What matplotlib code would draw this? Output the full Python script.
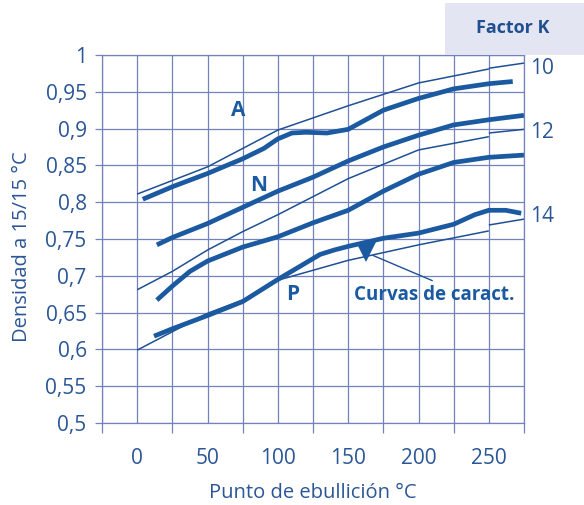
import matplotlib
matplotlib.use("Agg")
import matplotlib.pyplot as plt
from matplotlib.patches import Rectangle
from matplotlib.ticker import FixedLocator, NullFormatter, FixedFormatter

plt.rcParams['font.family'] = ['Open Sans', 'DejaVu Sans']

# ---- data ----
# thin "Factor K" lines
k10_x = [0, 50, 100, 150, 200, 250]
k10_y = [0.811, 0.848, 0.898, 0.931, 0.962, 0.981]
k10_tail_x = [250, 275]
k10_tail_y = [0.982, 0.989]

k12_x = [0, 25, 50, 75, 100, 150, 200, 250]
k12_y = [0.681, 0.706, 0.735, 0.760, 0.783, 0.832, 0.871, 0.889]
k12_tail_x = [250, 275]
k12_tail_y = [0.894, 0.899]

k14_x = [0, 25, 50, 75, 100, 150, 200, 250]
k14_y = [0.599, 0.624, 0.649, 0.667, 0.694, 0.721, 0.742, 0.761]
k14_tail_x = [250, 275]
k14_tail_y = [0.769, 0.777]

# thick curves
a_x = [4, 25, 50, 75, 90, 100, 110, 120, 135, 150, 175, 200, 225, 250, 267]
a_y = [0.804, 0.821, 0.839, 0.859, 0.873, 0.886, 0.894, 0.895, 0.894, 0.899,
       0.925, 0.941, 0.954, 0.961, 0.964]

n_x = [14, 25, 50, 75, 100, 125, 150, 175, 200, 225, 250, 275]
n_y = [0.742, 0.752, 0.771, 0.793, 0.815, 0.834, 0.856, 0.875, 0.891, 0.905,
       0.912, 0.918]

c_x = [14, 25, 37.5, 50, 75, 100, 125, 150, 175, 200, 225, 250, 275]
c_y = [0.667, 0.686, 0.706, 0.720, 0.739, 0.753, 0.772, 0.789, 0.815, 0.838,
       0.854, 0.861, 0.864]

p_x = [12, 25, 50, 75, 100, 115, 130, 140, 150, 175, 200, 225, 240, 250, 262, 273]
p_y = [0.618, 0.628, 0.646, 0.665, 0.695, 0.712, 0.729, 0.735, 0.740, 0.751,
       0.758, 0.770, 0.783, 0.789, 0.789, 0.785]

x_labels = ['0', '50', '100', '150', '200', '250']
x_label_pos = [0, 50, 100, 150, 200, 250]
x_tick_pos = [-25, 25, 75, 125, 175, 225, 275]
y_ticks = [0.5, 0.55, 0.6, 0.65, 0.7, 0.75, 0.8, 0.85, 0.9, 0.95, 1.0]
y_labels = ['0,5', '0,55', '0,6', '0,65', '0,7', '0,75', '0,8', '0,85', '0,9', '0,95', '1']
k_labels = ['10', '12', '14']
k_label_y = [0.982, 0.895, 0.780]

# ---- styles ----
W, H = 584, 505
thick_c = '#1b5aa0'
thin_c = '#1f4f94'
grid_c = '#7382bd'
text_c = '#2a5696'

fig = plt.figure(figsize=(W / 100, H / 100), dpi=100)
ax = fig.add_axes([102 / W, 1 - 423 / H, (524 - 102) / W, (423 - 55) / H])
ax.set_xlim(-25, 275)
ax.set_ylim(0.5, 1.0)

# ticks
ax.xaxis.set_major_locator(FixedLocator(x_tick_pos))
ax.xaxis.set_major_formatter(NullFormatter())
ax.xaxis.set_minor_locator(FixedLocator(x_label_pos))
ax.xaxis.set_minor_formatter(FixedFormatter(x_labels))
ax.tick_params(axis='x', which='major', length=7, width=0.9, color=grid_c)
ax.tick_params(axis='x', which='minor', length=0, pad=18, labelsize=15,
               labelcolor=text_c)
ax.set_yticks(y_ticks)
ax.set_yticklabels(y_labels)
ax.tick_params(axis='y', length=5, width=0.9, color=grid_c, pad=6,
               labelsize=15, labelcolor=text_c)

ax.grid(True, which='both', axis='x', color=grid_c, lw=0.9)
ax.grid(True, which='major', axis='y', color=grid_c, lw=0.9)
ax.set_axisbelow(True)
for s in ax.spines.values():
    s.set_color(grid_c)
    s.set_linewidth(0.9)

# thin K lines
for xs, ys in [(k10_x, k10_y), (k10_tail_x, k10_tail_y),
               (k12_x, k12_y), (k12_tail_x, k12_tail_y),
               (k14_x, k14_y), (k14_tail_x, k14_tail_y)]:
    ax.plot(xs, ys, color=thin_c, lw=1.1, solid_capstyle='butt', clip_on=False)

# thick curves
for xs, ys in [(a_x, a_y), (n_x, n_y), (c_x, c_y), (p_x, p_y)]:
    ax.plot(xs, ys, color=thick_c, lw=3.4, solid_capstyle='butt',
            solid_joinstyle='round', clip_on=False)

# curve letters
ax.text(72, 0.925, 'A', color=thick_c, fontsize=15, fontweight='bold', ha='center', va='center')
ax.text(86, 0.823, 'N', color=thick_c, fontsize=15, fontweight='bold', ha='center', va='center')
ax.text(110.5, 0.674, 'P', color=thick_c, fontsize=15, fontweight='bold', ha='center', va='center')

# K labels
for lab, yy in zip(k_labels, k_label_y):
    ax.text(279, yy, lab, color=text_c, fontsize=15, ha='left', va='center', clip_on=False)

# annotation
ax.text(211, 0.674, 'Curvas de caract.', color=thick_c, fontsize=13.5,
        fontweight='bold', ha='center', va='center')
ax.annotate('', xy=(166, 0.729), xytext=(211.6, 0.692),
            arrowprops=dict(arrowstyle='-', color=thin_c, lw=1.0))
ax.plot([162.5], [0.733], marker='v', markersize=15, color=thick_c, mew=0)

# axis labels
fig.text(313 / W, 1 - 493 / H, 'Punto de ebullición °C', color=text_c,
         fontsize=14.5, ha='center', va='center')
fig.text(22 / W, 1 - 247 / H, 'Densidad a 15/15 °C', color=text_c,
         fontsize=14.5, ha='center', va='center', rotation=90)

# Factor K box
fig.patches.append(Rectangle((445 / W, 1 - 55 / H), (W - 445) / W, 52 / H,
                             transform=fig.transFigure, facecolor='#e3e6f2',
                             edgecolor='none', zorder=0))
fig.text(513 / W, 1 - 28 / H, 'Factor K', color='#1f4f8f', fontsize=13,
         fontweight='bold', ha='center', va='center')

fig.savefig('out.png', dpi=100)
